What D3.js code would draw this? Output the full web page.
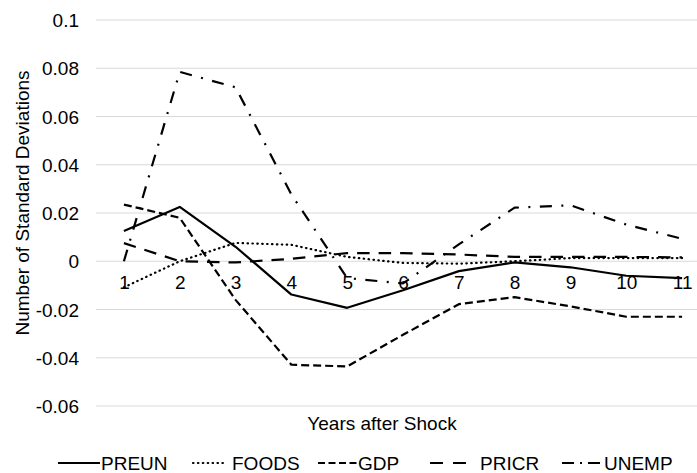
<!DOCTYPE html>
<html>
<head>
<meta charset="utf-8">
<script src="https://cdn.jsdelivr.net/npm/d3@7"></script>
<style>
  html, body { margin: 0; padding: 0; background: #fff; }
  svg text { font-family: "Liberation Sans", Arial, sans-serif; fill: #000; }
</style>
</head>
<body>
<svg id="chart" width="697" height="473"></svg>
<script>
const categories = ["1", "2", "3", "4", "5", "6", "7", "8", "9", "10", "11"];
const yTicks = [-0.06, -0.04, -0.02, 0, 0.02, 0.04, 0.06, 0.08, 0.1];
const yTickLabels = ["-0.06", "-0.04", "-0.02", "0", "0.02", "0.04", "0.06", "0.08", "0.1"];

const preun = [0.0125, 0.0225, 0.006, -0.0138, -0.0193, -0.012, -0.0041, -0.0005, -0.0025, -0.006, -0.007];
const foods = [-0.0108, 0.0, 0.0076, 0.0068, 0.0018, -0.0007, -0.001, 0.0, 0.0013, 0.0013, 0.0013];
const gdp = [0.0235, 0.018, -0.016, -0.0429, -0.0436, -0.0305, -0.0178, -0.0149, -0.0187, -0.023, -0.023];
const pricr = [0.0075, 0.0, -0.0005, 0.001, 0.0034, 0.0034, 0.0028, 0.0018, 0.0018, 0.0018, 0.0016];
const unemp = [0.0, 0.0785, 0.0721, 0.0277, -0.007, -0.0092, 0.007, 0.0222, 0.0232, 0.0152, 0.0093];

const seriesNames = ["PREUN", "FOODS", "GDP", "PRICR", "UNEMP"];
const seriesValues = [preun, foods, gdp, pricr, unemp];
const dashes = [null, "0.5,4.4", "8,4", "12.5,9", "12,9.5,2,9.5"];
const legendDashes = [null, "0.5,4.4", "7,3.5", "13,10", "12,6,2,6"];
const caps = ["butt", "round", "butt", "butt", "butt"];

(function () {
const svg = d3.select("#chart");
const pLeft = 96, pRight = 710, pTop = 20, pBottom = 406;

const x = d3.scalePoint().domain(categories).range([pLeft, pRight]).padding(0.5);
const y = d3.scaleLinear().domain([-0.06, 0.1]).range([pBottom, pTop]);

// gridlines
svg.append("g").selectAll("line").data(yTicks).join("line")
  .attr("x1", pLeft).attr("x2", pRight)
  .attr("y1", d => y(d)).attr("y2", d => y(d))
  .attr("stroke", "#d9d9d9").attr("stroke-width", 1);

// y axis labels
const yAxis = d3.axisLeft(y).tickValues(yTicks)
  .tickFormat((d, i) => yTickLabels[i]).tickSize(0).tickPadding(0);
const gy = svg.append("g").attr("transform", "translate(79,0)").call(yAxis);
gy.select(".domain").remove();
gy.selectAll("text").attr("font-size", 19).attr("font-family", "Liberation Sans, Arial, sans-serif").attr("fill", "#000").attr("dy", "0.35em");

// x axis at zero, labels only
const xAxis = d3.axisBottom(x).tickSize(0).tickPadding(0);
const gx = svg.append("g").attr("transform", `translate(0,${y(0)})`).call(xAxis);
gx.select(".domain").remove();
gx.selectAll("text").attr("font-size", 19).attr("font-family", "Liberation Sans, Arial, sans-serif").attr("fill", "#000").attr("dy", "0").attr("y", 28);

// lines
const line = d3.line().x((d, i) => x(categories[i])).y(d => y(d));
seriesValues.forEach((vals, k) => {
  svg.append("path").datum(vals)
    .attr("d", line)
    .attr("fill", "none")
    .attr("stroke", "#000")
    .attr("stroke-width", 2.2)
    .attr("stroke-linejoin", "round")
    .attr("stroke-linecap", caps[k])
    .attr("stroke-dasharray", dashes[k]);
});

// axis titles
svg.append("text").attr("x", 382).attr("y", 430)
  .attr("text-anchor", "middle").attr("font-size", 19).text("Years after Shock");
svg.append("text").attr("transform", "translate(29,203) rotate(-90)")
  .attr("text-anchor", "middle").attr("font-size", 19).text("Number of Standard Deviations");

// legend
const legendSym = [[58, 100], [193, 227], [318, 357], [430, 466], [562, 602]];
const legendText = [101, 232, 358, 480, 604];
const legendY = 463;
seriesNames.forEach((name, k) => {
  const g = svg.append("g");
  g.append("line")
    .attr("x1", legendSym[k][0]).attr("x2", legendSym[k][1])
    .attr("y1", legendY).attr("y2", legendY)
    .attr("stroke", "#000").attr("stroke-width", 2.2)
    .attr("stroke-linecap", caps[k])
    .attr("stroke-dasharray", legendDashes[k]);
  g.append("text").attr("x", legendText[k]).attr("y", legendY + 7)
    .attr("font-size", 19).text(name);
});
})();
</script>
</body>
</html>
